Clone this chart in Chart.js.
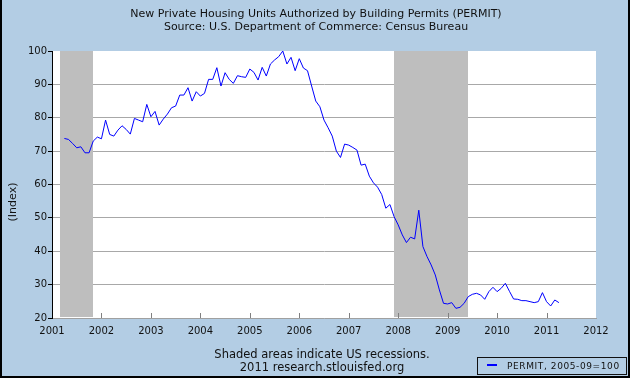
<!DOCTYPE html>
<html>
<head>
<meta charset="utf-8">
<script src="https://cdn.jsdelivr.net/npm/chart.js@4.4.1/dist/chart.umd.min.js"></script>
<style>
  body { margin: 0; }
  #wrap { position: relative; width: 630px; height: 378px; background: #b3cde4; overflow: hidden;
          font-family: "DejaVu Sans", sans-serif; color: #111; }
  #chart { position: absolute; left: 0; top: 0; }
  .txt { position: absolute; white-space: nowrap; font-size: 11px; line-height: 13px; }
  .center { transform: translateX(-50%); }
  #frame { position: absolute; left: 0; top: 0; width: 630px; height: 378px; box-sizing: border-box;
           border-left: 2px solid #000; border-right: 2px solid #000; border-bottom: 2px solid #000; pointer-events: none; }
  #legend { position: absolute; left: 477px; top: 357px; width: 150px; height: 18px; box-sizing: border-box;
            border: 1px solid #111; font-size: 9px; letter-spacing: 0.6px; }
  #legend .swatch { position: absolute; left: 9px; top: 6px; width: 10px; height: 2px; background: #0000ff; }
  #legend .label { position: absolute; left: 29px; top: 3px; line-height: 11px; }
</style>
</head>
<body>
<div id="wrap">
  <canvas id="chart" width="630" height="378"></canvas>
  <div class="txt center" style="left:316px; top:7px;">New Private Housing Units Authorized by Building Permits (PERMIT)</div>
  <div class="txt center" style="left:316px; top:20px;">Source: U.S. Department of Commerce: Census Bureau</div>
  <div class="txt center" style="left:322px; top:348px; font-size:11.5px;">Shaded areas indicate US recessions.</div>
  <div class="txt center" style="left:322px; top:361px; font-size:11.5px;">2011 research.stlouisfed.org</div>
  <div id="legend"><span class="swatch"></span><span class="label">PERMIT, 2005-09=100</span></div>
  <div id="frame"></div>
</div>
<script>
// Mois (AAAA-MM) et indice PERMIT (2005-09=100)
const months = [
  '2001-04','2001-05','2001-06','2001-07','2001-08','2001-09','2001-10','2001-11','2001-12',
  '2002-01','2002-02','2002-03','2002-04','2002-05','2002-06','2002-07','2002-08','2002-09','2002-10','2002-11','2002-12',
  '2003-01','2003-02','2003-03','2003-04','2003-05','2003-06','2003-07','2003-08','2003-09','2003-10','2003-11','2003-12',
  '2004-01','2004-02','2004-03','2004-04','2004-05','2004-06','2004-07','2004-08','2004-09','2004-10','2004-11','2004-12',
  '2005-01','2005-02','2005-03','2005-04','2005-05','2005-06','2005-07','2005-08','2005-09','2005-10','2005-11','2005-12',
  '2006-01','2006-02','2006-03','2006-04','2006-05','2006-06','2006-07','2006-08','2006-09','2006-10','2006-11','2006-12',
  '2007-01','2007-02','2007-03','2007-04','2007-05','2007-06','2007-07','2007-08','2007-09','2007-10','2007-11','2007-12',
  '2008-01','2008-02','2008-03','2008-04','2008-05','2008-06','2008-07','2008-08','2008-09','2008-10','2008-11','2008-12',
  '2009-01','2009-02','2009-03','2009-04','2009-05','2009-06','2009-07','2009-08','2009-09','2009-10','2009-11','2009-12',
  '2010-01','2010-02','2010-03','2010-04','2010-05','2010-06','2010-07','2010-08','2010-09','2010-10','2010-11','2010-12',
  '2011-01','2011-02','2011-03','2011-04'
];
const permitValues = [
  73.8, 73.5, 72.3, 71.0, 71.3, 69.5, 69.5, 73.0, 74.2,
  73.7, 79.3, 75.0, 74.5, 76.3, 77.6, 76.5, 75.1, 79.8, 79.3, 78.8, 84.0,
  80.3, 81.9, 77.8, 79.6, 81.1, 83.0, 83.5, 86.8, 86.8, 89.0, 85.0, 87.8,
  86.5, 87.3, 91.5, 91.5, 95.0, 89.5, 93.5, 91.5, 90.3, 92.6, 92.3, 92.1,
  94.6, 93.6, 91.3, 95.1, 92.5, 96.1, 97.3, 98.3, 100.0, 96.1, 98.1, 94.1,
  97.7, 94.9, 94.1, 89.5, 85.0, 83.3, 79.3, 77.0, 74.5, 70.0, 68.1, 72.1,
  71.8, 71.1, 70.3, 65.8, 66.1, 62.5, 60.5, 59.2, 57.0, 52.9, 54.0, 50.4,
  47.9, 44.9, 42.6, 44.2, 43.7, 52.3, 41.4, 38.4, 35.9, 32.9, 28.4, 24.4,
  24.2, 24.6, 22.9, 23.2, 24.4, 26.4, 27.1, 27.4, 26.9, 25.6, 27.9, 29.2,
  27.9, 28.9, 30.4, 28.0, 25.7, 25.6, 25.2, 25.2, 24.9, 24.6, 24.9, 27.6,
  24.9, 23.6, 25.4, 24.6
];

// Récessions US (zones grisées)
const recessionStarts = ['2001-03', '2007-12'];
const recessionEnds = ['2001-11', '2009-06'];

// Axes
const yearMin = 2001;
const yearMax = 2012;
const indexMin = 20;
const indexMax = 100;

function toYear(ym) {
    const [y, m] = ym.split('-').map(Number);
    return y + (m - 1) / 12;
}

const points = months.map((m, i) => ({ x: toYear(m), y: permitValues[i] }));

// Fond blanc, récessions, petites graduations de l'axe X, titre de l'axe Y
const decorPlugin = {
    id: 'decor',
    beforeDraw(chart) {
        const { ctx, chartArea } = chart;
        ctx.save();
        ctx.fillStyle = '#ffffff';
        ctx.fillRect(chartArea.left, chartArea.top, chartArea.right - chartArea.left, chartArea.bottom - chartArea.top);
        ctx.restore();
    },
    beforeDatasetsDraw(chart) {
        const { ctx, chartArea, scales: { x } } = chart;
        ctx.save();
        ctx.fillStyle = '#bebebe';
        recessionStarts.forEach((s, i) => {
            const x1 = Math.round(x.getPixelForValue(toYear(s)));
            const x2 = Math.round(x.getPixelForValue(toYear(recessionEnds[i])));
            ctx.fillRect(x1, chartArea.top, x2 - x1, chartArea.bottom - chartArea.top - 1);
        });
        ctx.strokeStyle = '#808080';
        ctx.lineWidth = 1;
        x.ticks.forEach(t => {
            if (t.value <= yearMin || t.value >= yearMax) return;
            const px = Math.round(x.getPixelForValue(t.value)) + 0.5;
            ctx.beginPath();
            ctx.moveTo(px, chartArea.bottom);
            ctx.lineTo(px, chartArea.bottom - 5);
            ctx.stroke();
        });
        ctx.restore();
    },
    afterDraw(chart) {
        const { ctx } = chart;
        ctx.save();
        ctx.translate(13, 202);
        ctx.rotate(-Math.PI / 2);
        ctx.fillStyle = '#111';
        ctx.font = '11px "DejaVu Sans"';
        ctx.textAlign = 'center';
        ctx.textBaseline = 'middle';
        ctx.fillText('(Index)', 0, 0);
        ctx.restore();
    }
};

new Chart(document.getElementById('chart'), {
    type: 'line',
    data: {
        datasets: [{
            label: 'PERMIT, 2005-09=100',
            data: points,
            borderColor: '#0000ff',
            borderWidth: 1,
            pointRadius: 0,
            tension: 0,
            fill: false
        }]
    },
    options: {
        responsive: false,
        animation: false,
        layout: { padding: { left: 0, top: 51, right: 34, bottom: 0 } },
        plugins: {
            legend: { display: false },
            tooltip: { enabled: false }
        },
        scales: {
            x: {
                type: 'linear',
                min: yearMin,
                max: yearMax,
                afterFit(scale) { scale.height = 60; },
                ticks: {
                    stepSize: 1,
                    autoSkip: false,
                    maxRotation: 0,
                    padding: 7,
                    color: '#111',
                    font: { family: 'DejaVu Sans', size: 10 },
                    callback: v => String(v)
                },
                grid: { display: false, drawTicks: false },
                border: { color: '#a0a0a0' }
            },
            y: {
                min: indexMin,
                max: indexMax,
                afterFit(scale) { scale.width = 52; },
                ticks: {
                    stepSize: 10,
                    padding: 1,
                    color: '#111',
                    font: { family: 'DejaVu Sans', size: 10 }
                },
                grid: {
                    color: ctx => (ctx.tick && (ctx.tick.value === indexMin || ctx.tick.value === indexMax)) ? 'rgba(0,0,0,0)' : '#a8a8a8',
                    tickColor: '#000',
                    tickLength: 4
                },
                border: { color: '#000' }
            }
        }
    },
    plugins: [decorPlugin]
});
</script>
</body>
</html>
